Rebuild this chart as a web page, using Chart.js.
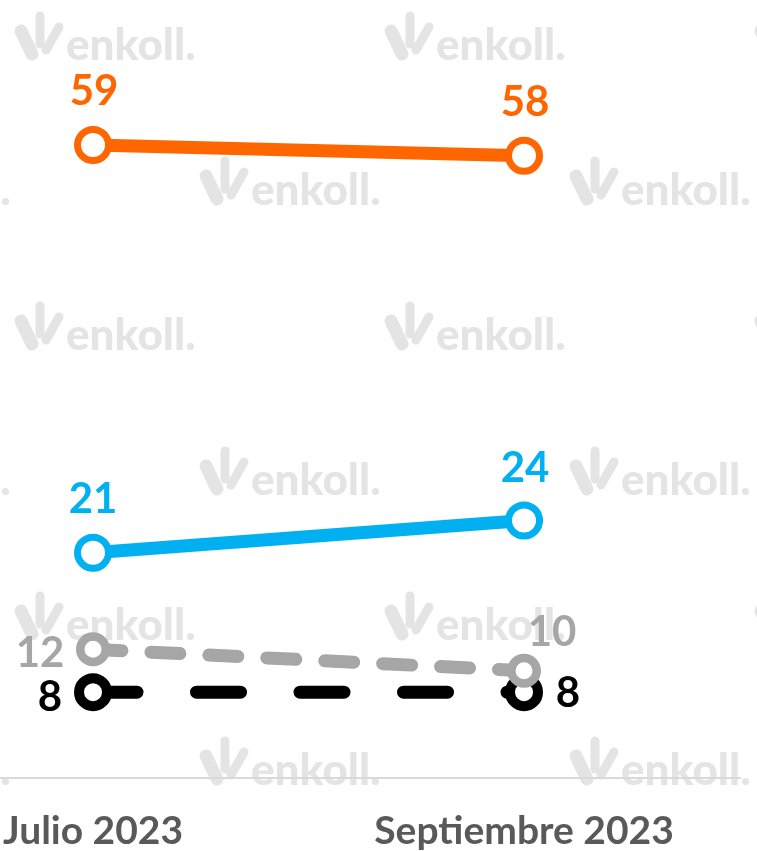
<!DOCTYPE html>
<html><head><meta charset="utf-8">
<script src="https://cdn.jsdelivr.net/npm/chart.js@4/dist/chart.umd.min.js"></script>
<style>html,body{margin:0;padding:0;background:#fff;}#wrap{width:757px;height:851px;position:relative;}</style>
</head><body><div id="wrap"><canvas id="c" width="757" height="851"></canvas></div>
<script>
// ---- data ----
const categories = ['Julio 2023', 'Septiembre 2023'];
const seriesOrange = [59, 58];
const seriesBlue = [21, 24];
const seriesGray = [12, 10];
const seriesBlack = [8, 8];
const yMin = 0, yMax = 70;

// ---- styles ----
const COLORS = { orange: '#FF6600', blue: '#00B0F0', gray: '#A6A6A6', black: '#000000' };
const labelOffsets = [
  [[1, -55], [1, -55]],
  [[0, -55], [1, -54]],
  [[-53, 3], [28, -40]],
  [[-43, 4], [44, 0]]
];

const watermarkPlugin = {
  id: 'watermark',
  beforeDraw(chart) {
    const ctx = chart.ctx;
    ctx.save();
    const col = '#E4E4E4';
    ctx.fillStyle = col; ctx.strokeStyle = col;
    ctx.font = '900 44px Lato';
    ctx.textBaseline = 'alphabetic';
    ctx.lineCap = 'round';
    for (let r = 0; r < 7; r++) {
      const b = 60 + 145 * r;
      const x0 = (r % 2 === 0) ? 15 : 200;
      for (let k = -1; k < 3; k++) {
        const lx = x0 + 370 * k;
        ctx.fillText('enkoll.', lx + 51, b);
        ctx.lineWidth = 13;
        ctx.beginPath(); ctx.moveTo(lx + 6, b - 29); ctx.lineTo(lx + 17, b - 6); ctx.stroke();
        ctx.lineWidth = 9;
        ctx.beginPath(); ctx.moveTo(lx + 25, b - 44); ctx.lineTo(lx + 25, b - 16); ctx.stroke();
        ctx.beginPath(); ctx.moveTo(lx + 31, b - 10); ctx.lineTo(lx + 44, b - 33); ctx.stroke();
      }
    }
    ctx.restore();
  }
};

const labelPlugin = {
  id: 'valueLabels',
  afterDatasetsDraw(chart) {
    const ctx = chart.ctx;
    ctx.save();
    ctx.font = 'bold 42px Lato';
    ctx.textAlign = 'center';
    ctx.textBaseline = 'alphabetic';
    chart.data.datasets.forEach((ds, i) => {
      const meta = chart.getDatasetMeta(i);
      meta.data.forEach((pt, j) => {
        const [dx, dy] = labelOffsets[i][j];
        ctx.fillStyle = ds.borderColor;
        ctx.fillText(String(ds.data[j].y), pt.x + dx, pt.y + dy + 15);
      });
    });
    ctx.restore();
  }
};

function toPoints(arr) { return arr.map((v, i) => ({ x: i, y: v })); }

function draw() {
  new Chart(document.getElementById('c'), {
    type: 'line',
    data: {
      datasets: [
        { data: toPoints(seriesOrange), borderColor: COLORS.orange, borderWidth: 13,
          pointRadius: 15.5, pointBorderWidth: 7, pointBackgroundColor: '#fff', pointBorderColor: COLORS.orange },
        { data: toPoints(seriesBlue), borderColor: COLORS.blue, borderWidth: 13,
          pointRadius: 15.5, pointBorderWidth: 7, pointBackgroundColor: '#fff', pointBorderColor: COLORS.blue },
        { data: toPoints(seriesGray), borderColor: COLORS.gray, borderWidth: 13, borderDash: [29, 29], borderCapStyle: 'round',
          pointRadius: 12.75, pointBorderWidth: 8.5, pointBackgroundColor: '#fff', pointBorderColor: COLORS.gray },
        { data: toPoints(seriesBlack), borderColor: COLORS.black, borderWidth: 13, borderDash: [44, 59.5], borderCapStyle: 'round',
          pointRadius: 14, pointBorderWidth: 10, pointBackgroundColor: '#fff', pointBorderColor: COLORS.black }
      ]
    },
    options: {
      responsive: false,
      animation: false,
      layout: { autoPadding: false, padding: { top: 27, left: 0, right: 17, bottom: 0 } },
      plugins: { legend: { display: false }, tooltip: { enabled: false } },
      scales: {
        x: {
          type: 'linear', min: -0.2158, max: 1.5011,
          afterBuildTicks: s => { s.ticks = categories.map((c, i) => ({ value: i })); },
          afterFit: s => { s.height = 73; s.paddingLeft = 0; s.paddingRight = 0; },
          grid: { display: false, drawTicks: false },
          border: { display: true, color: '#D9D9D9', width: 2 },
          ticks: {
            callback: v => categories[v] ?? '',
            color: '#595959', font: { family: 'Lato', size: 39, weight: 'bold', lineHeight: 2.76 },
            padding: 0, maxRotation: 0, autoSkip: false
          }
        },
        y: { display: false, min: yMin, max: yMax }
      }
    },
    plugins: [watermarkPlugin, labelPlugin]
  });
}
Promise.all([document.fonts.load('bold 40px Lato'), document.fonts.load('900 44px Lato')]).then(draw, draw);
</script>
</body></html>
